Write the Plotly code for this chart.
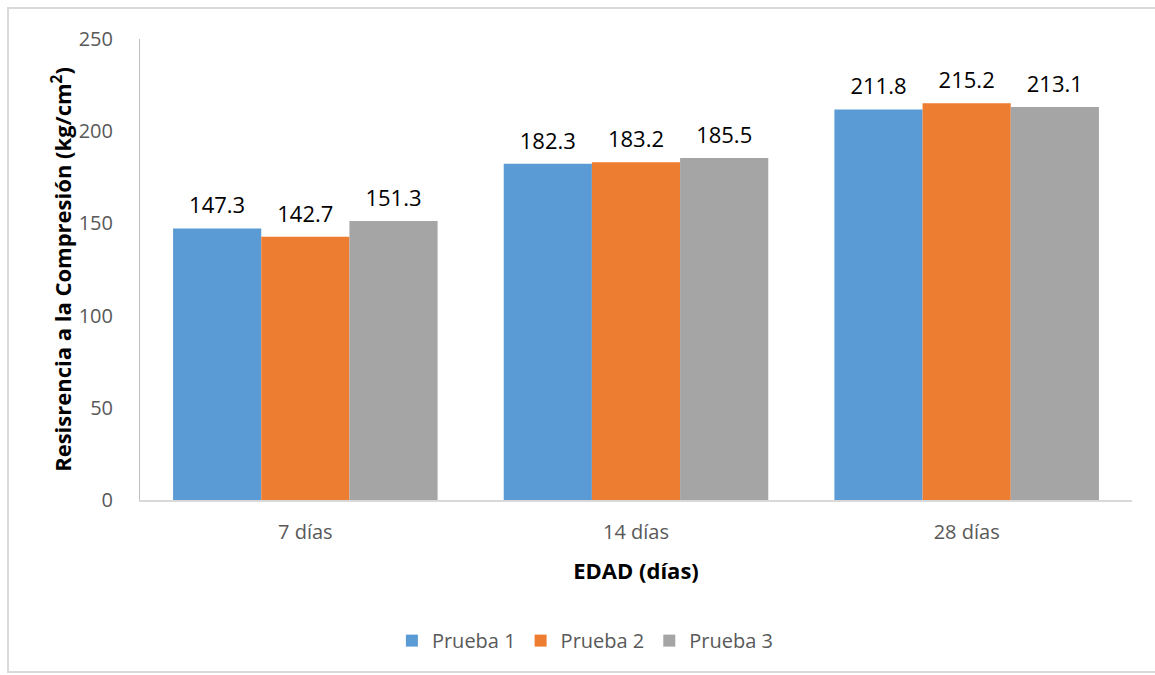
import plotly.graph_objects as go

edades = ["7 días", "14 días", "28 días"]
prueba_1 = [147.3, 182.3, 211.8]
prueba_2 = [142.7, 183.2, 215.2]
prueba_3 = [151.3, 185.5, 213.1]
series_nombres = ["Prueba 1", "Prueba 2", "Prueba 3"]
colores = ["#5b9bd5", "#ed7d31", "#a5a5a5"]

FONT = "Open Sans, Lato, sans-serif"

fig = go.Figure()
for i, (nombre, valores, color) in enumerate(zip(series_nombres, [prueba_1, prueba_2, prueba_3], colores)):
    fig.add_trace(go.Bar(
        x=edades, y=valores, name=nombre, offsetgroup=str(i),
        marker=dict(color=color, line=dict(width=0)),
    ))
    # value labels, grouped the same way as the bars; the invisible marker
    # sets the gap between each bar top and its label
    fig.add_trace(go.Scatter(
        x=edades, y=valores, mode="markers+text", offsetgroup=str(i),
        text=[f"{v:.1f}" for v in valores], textposition="top center",
        marker=dict(size=14, color="rgba(0,0,0,0)"), cliponaxis=False,
        showlegend=False, hoverinfo="skip",
        textfont=dict(family=FONT, size=22, color="#000000"),
    ))

W, H = 1155, 675
L, R, T, B = 140, 23, 39, 175
pw, ph = W - L - R, H - T - B

fig.update_layout(
    width=W, height=H,
    margin=dict(l=L, r=R, t=T, b=B),
    paper_bgcolor="white", plot_bgcolor="white",
    barmode="group", bargap=0.2, bargroupgap=0,
    scattermode="group", scattergap=0.2,
    font=dict(family=FONT, color="#595959"),
    showlegend=True,
    legend=dict(orientation="h", x=0.449, xanchor="center", y=-0.305, yanchor="middle",
                font=dict(family=FONT, size=20, color="#595959"),
                itemwidth=30, traceorder="normal"),
)
fig.update_xaxes(
    showline=True, linecolor="#d9d9d9", linewidth=2,
    showgrid=False, ticks="", ticklabelstandoff=13,
    tickfont=dict(family=FONT, size=20, color="#595959"),
    title=dict(text="<b>EDAD (días)</b>", font=dict(family=FONT, size=22, color="#000000"), standoff=20),
)
fig.update_yaxes(
    range=[0, 250], dtick=50, showline=True, linecolor="#bfbfbf", linewidth=1,
    showgrid=False, zeroline=False, ticks="", ticklabelstandoff=22,
    tickfont=dict(family=FONT, size=20, color="#595959"),
    title=dict(text="<b>Resisrencia a la Compresión (kg/cm<sup>2</sup>)</b>",
               font=dict(family=FONT, size=22, color="#000000"), standoff=0),
)
# outer chart frame
fig.add_shape(type="rect", xref="paper", yref="paper",
              x0=(8 - L) / pw, x1=(W + 5 - L) / pw,
              y0=(H - B - 672) / ph, y1=(H - B - 8) / ph,
              line=dict(color="#d9d9d9", width=2), layer="below")

fig.write_html("out.html")
